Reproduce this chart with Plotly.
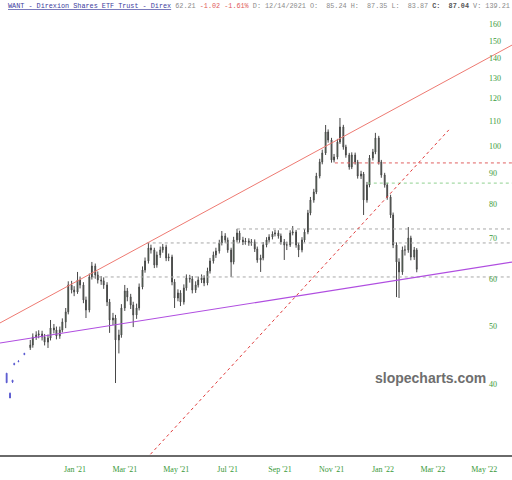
import pandas as pd
import plotly.graph_objects as go

# sparse early prints, drawn in blue
early_dates = ["2020-10-12", "2020-10-16", "2020-10-19", "2020-10-21", "2020-10-26", "2020-11-02"]
early_open = [41.7, 38.6, 40.6, 43.3, 43.6, 44.8]
early_high = [41.7, 38.7, 40.6, 43.4, 43.8, 45.1]
early_low = [40.15, 37.9, 40.15, 43.0, 43.5, 44.7]
early_close = [40.2, 37.9, 40.3, 43.1, 43.7, 45.0]

# main run: two bars per week (Mon / Thu) from Nov 2020 to Feb 2022
mondays = pd.date_range("2020-11-09", periods=66, freq="7D")
dates = mondays.append(mondays + pd.Timedelta(days=3)).sort_values()

opens = [46.0, 46.48, 47.93, 48.31, 48.5, 47.93, 47.0, 47.75, 49.63, 49.25,
         48.12, 49.25, 50.8, 52.8, 58.57, 57.45, 57.0, 59.71, 58.57, 55.28,
         53.19, 60.4, 63.0, 60.87, 59.71, 59.5, 58.57, 54.86, 51.18, 51.57,
         47.39, 48.31, 53.6, 57.23, 55.93, 54.23, 52.18, 53.6, 58.1, 62.05,
         64.24, 67.54, 67.02, 63.26, 65.74, 67.02, 67.8, 64.98, 65.23, 59.25,
         55.7, 56.8, 54.86, 57.9, 60.17, 59.94, 57.45, 58.57, 59.71, 60.17,
         59.02, 61.81, 64.24, 65.74, 66.76, 68.85, 70.72, 69.65, 67.02, 63.99,
         69.65, 71.54, 69.65, 69.12, 69.38, 68.85, 69.12, 67.28, 64.49, 64.98,
         68.32, 69.65, 70.45, 71.27, 71.54, 70.72, 69.12, 68.32, 68.32, 71.54,
         71.82, 68.32, 67.02, 69.65, 71.82, 77.27, 81.24, 83.78, 89.1, 94.04,
         97.35, 105.55, 102.35, 94.77, 95.87, 101.56, 107.6, 99.63, 96.61, 92.25,
         96.61, 94.04, 89.1, 89.8, 81.24, 86.07, 95.5, 97.73, 103.14, 94.04,
         89.45, 86.07, 82.18, 76.68, 68.32, 63.99, 61.58, 67.02, 67.02, 70.18,
         65.23, 67.02]
highs = [47.39, 48.6, 49.0, 49.2, 49.1, 48.5, 48.4, 51.18, 50.4, 49.9,
         49.9, 51.5, 53.6, 59.4, 59.5, 58.3, 61.58, 60.5, 59.2, 56.0,
         61.2, 64.0, 63.6, 61.7, 60.6, 60.3, 59.2, 55.5, 52.6, 52.2,
         49.3, 54.4, 58.57, 57.9, 56.6, 54.9, 54.5, 58.9, 62.9, 65.1,
         68.85, 68.4, 67.6, 66.6, 67.9, 68.6, 68.4, 66.1, 65.8, 59.9,
         57.6, 57.4, 58.7, 61.0, 60.9, 60.6, 59.4, 60.5, 61.0, 60.8,
         62.6, 65.0, 66.6, 67.6, 69.7, 72.1, 71.5, 70.3, 67.6, 70.5,
         72.7, 72.2, 70.5, 70.2, 70.1, 69.9, 69.8, 67.9, 65.8, 69.1,
         70.4, 71.2, 72.0, 72.4, 72.3, 71.4, 69.9, 69.2, 72.3, 73.5,
         72.4, 68.9, 70.4, 72.6, 78.2, 82.2, 84.8, 90.2, 95.2, 98.6,
         108.44, 106.6, 103.2, 97.0, 102.8, 111.4, 108.5, 100.5, 97.4, 97.6,
         97.5, 94.8, 90.9, 90.5, 87.1, 96.6, 98.9, 105.2, 104.0, 94.8,
         90.2, 86.8, 82.9, 77.4, 69.0, 64.9, 67.9, 68.2, 73.2, 70.8,
         67.8, 67.5]
lows = [45.6, 46.0, 47.4, 47.7, 47.3, 46.4, 45.95, 47.3, 48.6, 47.5,
        47.6, 48.8, 49.6, 52.3, 56.7, 56.1, 56.6, 57.8, 54.6, 51.57,
        52.7, 59.8, 60.0, 58.9, 58.6, 57.7, 54.0, 48.7, 50.2, 40.15,
        45.0, 47.8, 53.0, 55.0, 53.4, 49.8, 51.4, 53.1, 57.6, 61.4,
        63.6, 66.1, 62.5, 62.6, 65.0, 66.3, 64.2, 64.2, 58.5, 53.6,
        55.0, 54.0, 54.3, 57.3, 59.1, 56.7, 56.8, 58.0, 59.0, 58.3,
        58.5, 61.2, 63.6, 65.0, 66.1, 68.2, 68.9, 66.3, 60.4, 63.4,
        69.0, 68.9, 68.3, 68.4, 68.1, 68.1, 66.5, 63.8, 61.58, 64.4,
        67.7, 69.0, 69.8, 70.6, 70.0, 68.4, 64.49, 67.0, 67.8, 70.9,
        67.6, 65.2, 66.4, 69.0, 71.2, 76.6, 80.4, 83.1, 88.3, 93.2,
        96.6, 101.3, 93.8, 93.9, 95.0, 100.8, 98.6, 95.6, 91.3, 91.5,
        93.1, 88.2, 88.1, 76.68, 80.4, 85.3, 94.6, 96.9, 93.1, 88.5,
        85.2, 81.3, 75.8, 67.5, 55.9, 55.7, 60.9, 65.6, 66.3, 64.4,
        64.5, 61.5]
closes = [46.48, 47.93, 48.31, 48.5, 47.93, 47.0, 47.75, 49.63, 49.25, 48.12,
          49.25, 50.8, 52.8, 58.57, 57.45, 57.0, 59.71, 58.57, 55.28, 53.19,
          60.4, 63.0, 60.87, 59.71, 59.5, 58.57, 54.86, 51.18, 51.57, 47.39,
          48.31, 53.6, 57.23, 55.93, 54.23, 52.18, 53.6, 58.1, 62.05, 64.24,
          67.54, 67.02, 63.26, 65.74, 67.02, 67.8, 64.98, 65.23, 59.25, 55.7,
          56.8, 54.86, 57.9, 60.17, 59.94, 57.45, 58.57, 59.71, 60.17, 59.02,
          61.81, 64.24, 65.74, 66.76, 68.85, 70.72, 69.65, 67.02, 63.99, 69.65,
          71.54, 69.65, 69.12, 69.38, 68.85, 69.12, 67.28, 64.49, 64.98, 68.32,
          69.65, 70.45, 71.27, 71.54, 70.72, 69.12, 68.32, 68.32, 71.54, 71.82,
          68.32, 67.02, 69.65, 71.82, 77.27, 81.24, 83.78, 89.1, 94.04, 97.35,
          105.55, 102.35, 94.77, 95.87, 101.56, 107.6, 99.63, 96.61, 92.25, 96.61,
          94.04, 89.1, 89.8, 81.24, 86.07, 95.5, 97.73, 103.14, 94.04, 89.45,
          86.07, 82.18, 76.68, 68.32, 63.99, 61.58, 67.02, 67.02, 70.18, 65.23,
          67.02, 62.21]

# drawn trendlines (start/end dates and prices)
upper_dates = ["2020-10-04 03:00", "2022-06-02 21:00"]
upper_prices = [50.6, 147.5]
support_dates = ["2020-10-04 03:00", "2022-06-02 21:00"]
support_prices = [46.84, 63.98]
steep_dates = ["2021-03-17", "2022-03-20"]
steep_prices = [29.0, 106.4]

# horizontal levels
level_prices = [93.7, 86.7, 72.66, 68.85, 60.4]
level_starts = ["2021-11-05", "2021-12-14", "2021-07-12", "2021-03-27", "2021-01-22"]
level_colors = ["#e06060", "#8fd08f", "#a8a8a8", "#a8a8a8", "#a8a8a8"]
level_end = "2022-06-02 21:00"

x_tick_dates = ["2021-01-01", "2021-03-01", "2021-05-01", "2021-07-01", "2021-09-01",
                "2021-11-01", "2022-01-01", "2022-03-01", "2022-05-01"]
x_tick_text = ["Jan '21", "Mar '21", "May '21", "Jul '21", "Sep '21",
               "Nov '21", "Jan '22", "Mar '22", "May '22"]
y_ticks = [40, 50, 60, 70, 80, 90, 100, 110, 120, 130, 140, 150, 160]

fig = go.Figure()

fig.add_trace(go.Candlestick(
    x=early_dates, open=early_open, high=early_high, low=early_low, close=early_close,
    increasing=dict(line=dict(color="#5a5ad0", width=1), fillcolor="#5a5ad0"),
    decreasing=dict(line=dict(color="#5a5ad0", width=1), fillcolor="#5a5ad0"),
    showlegend=False, hoverinfo="skip",
))
fig.add_trace(go.Candlestick(
    x=dates, open=opens, high=highs, low=lows, close=closes,
    increasing=dict(line=dict(color="#484848", width=1), fillcolor="#5fa35f"),
    decreasing=dict(line=dict(color="#484848", width=1), fillcolor="#6b7a6b"),
    showlegend=False, hoverinfo="skip",
))

for p, start, c in zip(level_prices, level_starts, level_colors):
    fig.add_trace(go.Scatter(
        x=[start, level_end], y=[p, p], mode="lines",
        line=dict(color=c, width=1, dash="dot"), showlegend=False, hoverinfo="skip",
    ))

fig.add_trace(go.Scatter(
    x=upper_dates, y=upper_prices, mode="lines",
    line=dict(color="#ee7a72", width=1), showlegend=False, hoverinfo="skip",
))
fig.add_trace(go.Scatter(
    x=support_dates, y=support_prices, mode="lines",
    line=dict(color="#b04ee0", width=1.2), showlegend=False, hoverinfo="skip",
))
fig.add_trace(go.Scatter(
    x=steep_dates, y=steep_prices, mode="lines",
    line=dict(color="#e03a3a", width=1, dash="dot"), showlegend=False, hoverinfo="skip",
))

nb = "\u00a0"
header = (
    '<span style="color:#3d3d9e"><u>WANT - Direxion Shares ETF Trust - Direx</u></span>' + nb
    + '<span style="color:#8a8a8a">62.21</span>' + nb
    + '<span style="color:#e05a5a">-1.02' + nb + '-1.61%</span>' + nb
    + '<span style="color:#8a8a8a">D:' + nb + '12/14/2021' + nb + 'O:' + nb * 2 + '85.24' + nb
    + 'H:' + nb * 2 + '87.35' + nb + 'L:' + nb * 2 + '83.87</span>' + nb
    + '<span style="color:#555555"><b>C:' + nb * 2 + '87.04</b></span>' + nb
    + '<span style="color:#8a8a8a">V:' + nb + '139.21</span>'
)
fig.add_annotation(
    x=0.012, y=1.0, xref="paper", yref="paper", xanchor="left", yanchor="top",
    text=header, showarrow=False, font=dict(family="Liberation Mono", size=6.8),
)
fig.add_annotation(
    x=0.84, y=0.169, xref="paper", yref="paper", xanchor="center", yanchor="middle",
    text="<b>slopecharts.com</b>", showarrow=False,
    font=dict(family="Liberation Sans", size=14, color="#6e6e6e"),
)

fig.update_layout(
    width=512,
    height=480,
    margin=dict(l=0, r=0, t=0, b=25),
    paper_bgcolor="white",
    plot_bgcolor="white",
    showlegend=False,
    xaxis=dict(
        type="date",
        range=["2020-10-04 03:00", "2022-06-02 21:00"],
        rangeslider=dict(visible=False),
        tickvals=x_tick_dates,
        ticktext=x_tick_text,
        ticks="",
        ticklabelstandoff=6,
        showgrid=False,
        zeroline=False,
        showline=True,
        linecolor="#6a6a6a",
        linewidth=1.5,
        tickfont=dict(family="Liberation Serif", size=8, color="#3a9a3a"),
    ),
    yaxis=dict(
        type="log",
        range=[1.48333, 2.24420],
        tickvals=y_ticks,
        ticktext=[str(v) for v in y_ticks],
        side="right",
        anchor="free",
        position=0.953,
        ticks="",
        showgrid=False,
        zeroline=False,
        showline=False,
        tickfont=dict(family="Liberation Serif", size=8, color="#3a9a3a"),
    ),
)

fig.write_html(
    "out.html",
    config={"displayModeBar": False},
    post_script="document.body.style.margin='0';",
)
